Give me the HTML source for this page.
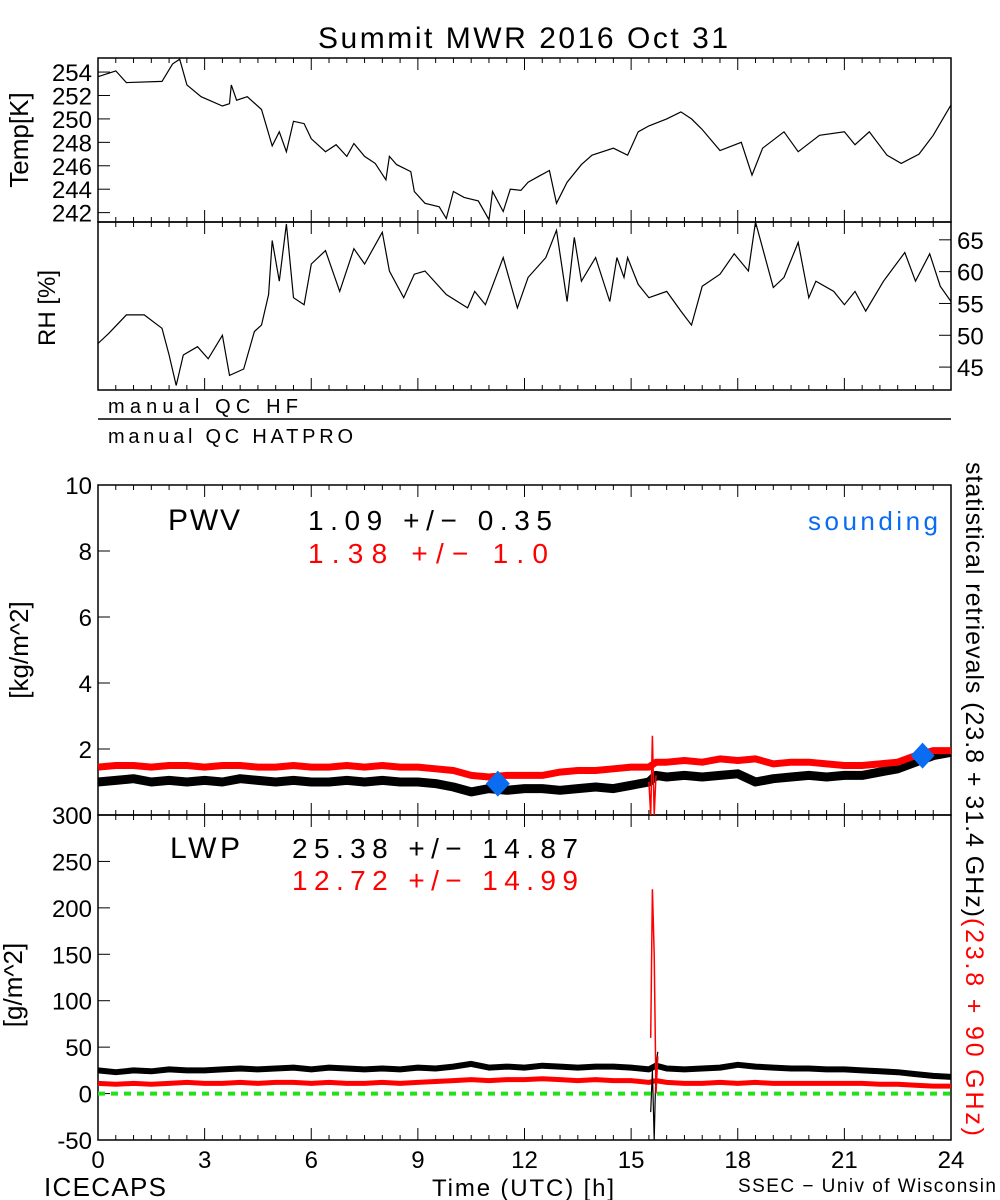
<!DOCTYPE html>
<html><head><meta charset="utf-8">
<style>
html,body{margin:0;padding:0;background:#fff;}
svg{display:block;font-family:"Liberation Sans",sans-serif;}
</style></head>
<body>
<svg id="chart" width="1000" height="1200" viewBox="0 0 1000 1200" xmlns="http://www.w3.org/2000/svg">
<rect width="1000" height="1200" fill="#fff"/>
<text x="523" y="48" font-size="30" text-anchor="middle" textLength="410" lengthAdjust="spacing">Summit MWR 2016 Oct 31</text>
<g id="g"></g>
</svg>
<script>
// ---- data ----
const tempTimes=[0,0.5,0.8,1.8,2.1,2.3,2.5,2.9,3.5,3.7,3.75,3.9,4.2,4.6,4.7,4.9,5.1,5.3,5.5,5.8,6.0,6.4,6.7,7.0,7.2,7.5,7.8,8.1,8.2,8.4,8.8,8.9,9.2,9.6,9.8,10.0,10.3,10.7,11.0,11.1,11.4,11.6,11.9,12.1,12.4,12.7,12.9,13.2,13.6,13.9,14.5,14.9,15.2,15.5,16.0,16.4,16.7,17.0,17.5,18.1,18.4,18.7,19.3,19.7,20.3,21.0,21.3,21.7,22.2,22.6,23.1,23.5,24.0];
const tempValues=[253.6,254.1,253.1,253.2,254.7,255.1,252.9,251.9,251.1,251.3,252.9,251.6,251.9,250.8,249.8,247.7,248.9,247.2,249.8,249.6,248.3,247.2,247.8,246.8,247.9,246.8,246.2,244.8,246.8,246.1,245.5,243.8,242.8,242.5,241.5,243.8,243.3,243.0,241.4,243.8,242.1,244.0,243.9,244.6,245.1,245.6,242.8,244.6,246.1,246.9,247.5,246.9,248.9,249.4,250.0,250.6,250.0,249.1,247.3,248.0,245.2,247.5,248.9,247.2,248.6,248.9,247.8,248.9,246.9,246.2,247.0,248.6,251.2];
const rhTimes=[0,0.3,0.8,1.3,1.8,2.0,2.2,2.4,2.8,3.1,3.5,3.7,4.1,4.4,4.6,4.8,4.9,5.1,5.3,5.5,5.8,6.0,6.4,6.8,7.2,7.5,8.0,8.2,8.6,8.9,9.2,9.8,10.4,10.6,10.9,11.4,11.8,12.1,12.6,12.9,13.2,13.4,13.6,14.0,14.4,14.6,14.8,14.9,15.2,15.5,16.0,16.4,16.7,17.0,17.5,17.9,18.3,18.5,19.0,19.3,19.7,20.0,20.2,20.7,21.0,21.3,21.6,22.1,22.7,23.0,23.4,23.7,24.0];
const rhValues=[48.7,50.3,53.2,53.2,51.1,46.9,42.1,46.9,48.2,46.3,50,43.7,44.7,50.6,51.6,56.4,64.9,58.5,67.5,55.9,54.8,61.2,63.3,56.9,63.6,61.2,66.2,60.1,55.9,59.6,60.1,56.4,54.3,56.9,54.8,62.2,54.3,59.1,62.2,66.5,55.3,65.4,58.5,62.2,55.3,62.2,59.1,62.2,58.0,55.9,56.9,53.8,51.6,57.7,59.6,62.8,60.1,67.8,57.5,59.1,64.6,55.9,58.5,56.9,54.8,56.9,53.8,58.5,63.0,58.5,62.8,57.7,55.3];
const pwvTimes=[0,0.5,1,1.5,2,2.5,3,3.5,4,4.5,5,5.5,6,6.5,7,7.5,8,8.5,9,9.5,10,10.5,11,11.5,12,12.5,13,13.5,14,14.5,15,15.5,15.7,16,16.5,17,17.5,18,18.5,19,19.5,20,20.5,21,21.5,22,22.5,23,23.5,24];
const pwvBlack=[1.0,1.05,1.1,1.0,1.05,1.0,1.05,1.0,1.1,1.05,1.0,1.05,1.0,1.0,1.05,1.0,1.05,1.0,1.0,0.95,0.85,0.7,0.8,0.75,0.8,0.8,0.75,0.8,0.85,0.8,0.9,1.0,1.2,1.15,1.2,1.15,1.2,1.25,1.0,1.1,1.15,1.2,1.15,1.2,1.2,1.3,1.4,1.6,1.8,1.9];
const pwvRed=[1.45,1.5,1.5,1.45,1.5,1.5,1.45,1.5,1.5,1.45,1.45,1.5,1.45,1.45,1.5,1.45,1.5,1.45,1.45,1.4,1.35,1.2,1.15,1.2,1.2,1.2,1.3,1.35,1.35,1.4,1.45,1.45,1.6,1.6,1.65,1.6,1.7,1.65,1.7,1.55,1.6,1.6,1.55,1.5,1.5,1.55,1.6,1.8,1.95,1.95];
const pwvSpikeTimes=[15.5,15.55,15.6,15.65,15.7];
const pwvSpikeValues=[1.0,0.0,2.4,0.0,1.2];
const soundTimes=[11.25,23.2];
const soundValues=[0.95,1.8];
const lwpTimes=[0,0.5,1,1.5,2,2.5,3,3.5,4,4.5,5,5.5,6,6.5,7,7.5,8,8.5,9,9.5,10,10.5,11,11.5,12,12.5,13,13.5,14,14.5,15,15.5,15.7,16,16.5,17,17.5,18,18.5,19,19.5,20,20.5,21,21.5,22,22.5,23,23.5,24];
const lwpBlack=[25,23,25,24,26,25,25,26,27,26,27,28,26,28,27,26,27,26,28,27,29,32,28,29,28,30,29,28,29,29,28,26,30,27,26,27,28,31,29,28,27,27,26,26,25,24,23,21,19,18];
const lwpRed=[11,10,11,10,11,12,11,11,12,11,12,12,11,12,11,11,12,11,12,13,14,15,14,15,15,16,15,14,15,14,14,12,14,12,11,11,12,11,12,11,11,11,11,11,11,10,10,9,8,8];
const lwpSpikeTimes=[15.55,15.6,15.65,15.7,15.75];
const lwpSpikeValues=[60,220,150,0,40];
const lwpSpikeBlackValues=[-20,25,-50,30,45];
const xTicks=[0,3,6,9,12,15,18,21,24];
const tempTicks=[242,244,246,248,250,252,254];
const rhTicks=[45,50,55,60,65];
const pwvTicks=[0,2,4,6,8,10];
const lwpTicks=[-50,0,50,100,150,200,250,300];

// ---- scales ----
const X0=98,X1=951;
const xs=h=>X0+(X1-X0)*h/24;
const lin=(d0,d1,r0,r1)=>v=>r0+(r1-r0)*(v-d0)/(d1-d0);
const yT=lin(241.2,255.2,222,58);
const yR=lin(41.4,67.8,390,222);
const yP=lin(0,10,815,485);
const yL=lin(-50,300,1140,815);

const NS="http://www.w3.org/2000/svg";
const g=document.getElementById('g');
function mk(tag,attrs,parent){const e=document.createElementNS(NS,tag);for(const k in attrs)e.setAttribute(k,attrs[k]);(parent||g).appendChild(e);return e;}
function txt(s,attrs){const e=mk('text',attrs);e.textContent=s;return e;}
function pts(ts,vs,ys){return ts.map((t,i)=>xs(t).toFixed(1)+','+ys(vs[i]).toFixed(1)).join(' ');}

function frame(name,top,bot){
  const r=mk('rect',{x:X0,y:top,width:X1-X0,height:bot-top,fill:'none',stroke:'#000','stroke-width':1.5});
  
  
  for(let h=0;h<=24;h+=0.5){
    const big=(h%3===0);const L=big?12:5;
    const t1=mk('line',{x1:xs(h),x2:xs(h),y1:bot,y2:bot-L,stroke:'#000','stroke-width':1});
    
    
    const t2=mk('line',{x1:xs(h),x2:xs(h),y1:top,y2:top+L,stroke:'#000','stroke-width':1});
    
    
  }
}
frame('temp-panel',58,222);
frame('rh-panel',222,390);
frame('pwv-panel',485,815);
frame('lwp-panel',815,1140);

function yTicks(ticks,ys,side,name){
  ticks.forEach(v=>{
    const y=ys(v);
    const x=side==='left'?X0:X1;const d=side==='left'?1:-1;
    const l=mk('line',{x1:x,x2:x+d*12,y1:y,y2:y,stroke:'#000','stroke-width':1});
    
    
    const t=txt(String(v),{x:side==='left'?X0-6:X1+6,y:y+9,'font-size':24,'text-anchor':side==='left'?'end':'start'});
    
    
  });
}
yTicks(tempTicks,yT,'left','temp-y');
yTicks(rhTicks,yR,'right','rh-y');
yTicks(pwvTicks,yP,'left','pwv-y');
yTicks(lwpTicks,yL,'left','lwp-y');

let e;
e=txt('Temp[K]',{x:0,y:0,'font-size':26,'text-anchor':'middle',transform:'translate(28,140) rotate(-90)'});

e=txt('RH [%]',{x:0,y:0,'font-size':24,'text-anchor':'middle',transform:'translate(55,308) rotate(-90)'});

e=txt('[kg/m^2]',{x:0,y:0,'font-size':26,'text-anchor':'middle',transform:'translate(28,650) rotate(-90)'});

e=txt('[g/m^2]',{x:0,y:0,'font-size':26,'text-anchor':'middle',transform:'translate(22,985) rotate(-90)'});


e=txt('manual QC HF',{x:108,y:413,'font-size':20,textLength:190,lengthAdjust:'spacing'});

e=mk('line',{x1:X0,x2:X1,y1:419,y2:419,stroke:'#000','stroke-width':1.5});

e=txt('manual QC HATPRO',{x:108,y:443,'font-size':20,textLength:245,lengthAdjust:'spacing'});


e=mk('polyline',{points:pts(tempTimes,tempValues,yT),fill:'none',stroke:'#000','stroke-width':1.2});

e=mk('polyline',{points:pts(rhTimes,rhValues,yR),fill:'none',stroke:'#000','stroke-width':1.2});


e=mk('polyline',{points:pts(pwvTimes,pwvBlack,yP),fill:'none',stroke:'#000','stroke-width':9,'stroke-linejoin':'round'});

e=mk('polyline',{points:pts(pwvTimes,pwvRed,yP),fill:'none',stroke:'#f00','stroke-width':7,'stroke-linejoin':'round'});

e=mk('polyline',{points:pts(pwvSpikeTimes,pwvSpikeValues,yP),fill:'none',stroke:'#f00','stroke-width':1.5});

soundTimes.forEach((t,i)=>{
  const cx=xs(t),cy=yP(soundValues[i]);
  const d=mk('polygon',{points:`${cx},${cy-13} ${cx+12},${cy} ${cx},${cy+13} ${cx-12},${cy}`,fill:'#0a6cf0'});
  
  
});

e=mk('polyline',{points:pts(lwpTimes,lwpBlack,yL),fill:'none',stroke:'#000','stroke-width':6,'stroke-linejoin':'round'});

e=mk('polyline',{points:pts(lwpTimes,lwpRed,yL),fill:'none',stroke:'#f00','stroke-width':5,'stroke-linejoin':'round'});

e=mk('polyline',{points:pts(lwpSpikeTimes,lwpSpikeBlackValues,yL),fill:'none',stroke:'#000','stroke-width':1.2});

e=mk('polyline',{points:pts(lwpSpikeTimes,lwpSpikeValues,yL),fill:'none',stroke:'#f00','stroke-width':1.5});

e=mk('line',{x1:X0,x2:X1,y1:yL(0),y2:yL(0),stroke:'#22e01a','stroke-width':4,'stroke-dasharray':'7,6'});


e=txt('PWV',{x:168,y:530,'font-size':30,textLength:72,lengthAdjust:'spacing'});
e=txt('1.09 +/−  0.35',{x:308,y:530,'font-size':28,textLength:244,lengthAdjust:'spacing'});
e=txt('1.38 +/−    1.0',{x:308,y:563,'font-size':28,fill:'#f00',textLength:240,lengthAdjust:'spacing'});
e=txt('sounding',{x:808,y:530,'font-size':26,fill:'#0a6cf0',textLength:130,lengthAdjust:'spacing'});
e=txt('LWP',{x:170,y:858,'font-size':30,textLength:70,lengthAdjust:'spacing'});
e=txt('25.38 +/−  14.87',{x:292,y:858,'font-size':28,textLength:286,lengthAdjust:'spacing'});
e=txt('12.72 +/−  14.99',{x:292,y:890,'font-size':28,fill:'#f00',textLength:286,lengthAdjust:'spacing'});

e=mk('text',{x:0,y:0,'font-size':25,transform:'translate(966,462) rotate(90)'});

const s1=mk('tspan',{textLength:455,lengthAdjust:'spacing'},e);s1.textContent='statistical retrievals (23.8 + 31.4 GHz)';
const s2=mk('tspan',{fill:'#f00',textLength:218,lengthAdjust:'spacing'},e);s2.textContent='(23.8 + 90 GHz)';

xTicks.forEach(h=>{
  const t=txt(String(h),{x:xs(h),y:1168,'font-size':24,'text-anchor':'middle'});
  
  
});
e=txt('Time (UTC) [h]',{x:432,y:1196,'font-size':24,textLength:182,lengthAdjust:'spacing'});
e=txt('ICECAPS',{x:44,y:1196,'font-size':26,textLength:122,lengthAdjust:'spacing'});
e=txt('SSEC − Univ of Wisconsin',{x:738,y:1192,'font-size':19,textLength:258,lengthAdjust:'spacing'});
</script>
</body></html>
